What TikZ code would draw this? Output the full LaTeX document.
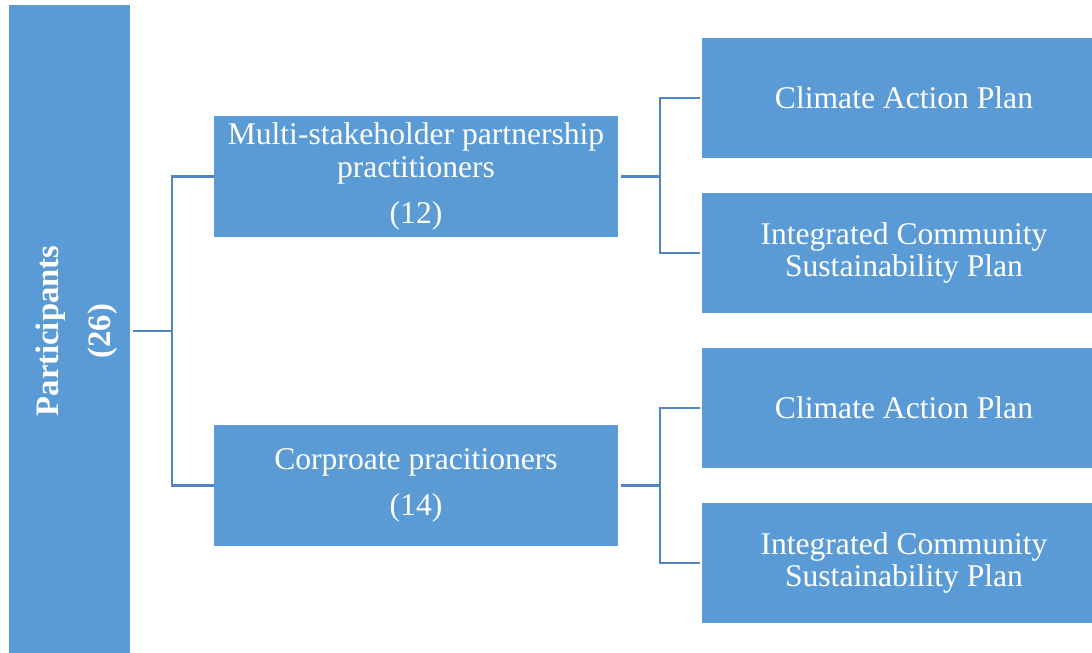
\documentclass[tikz,border=0pt]{standalone}
\usepackage{fontspec}
\setmainfont{Liberation Serif}
\definecolor{boxblue}{HTML}{5B9BD5}
\definecolor{linkblue}{HTML}{4F85C0}
\begin{document}
\begin{tikzpicture}[x=0.75pt,y=-0.75pt,
  blk/.style={fill=boxblue,draw=none,text=white,align=center,inner sep=0pt,
    font=\fontsize{23.7}{24.5}\selectfont},
  link/.style={draw=linkblue,line width=1.9pt}]
\useasboundingbox (0,0) rectangle (1092,653);
% root bar (rotated label)
\fill[boxblue] (9,5) rectangle (130,670);
\node[text=white,align=center,rotate=90,font=\bfseries\fontsize{24.5}{39}\selectfont]
  (root) at (77,331) {Participants\\(26)};
\coordinate (rootR) at (133,331);
% second level
\node[blk,minimum width=404*0.75pt,minimum height=121*0.75pt] (mid1) at (416,176.5)
  {Multi-stakeholder partnership\\practitioners\\[10pt](12)};
\node[blk,minimum width=404*0.75pt,minimum height=121*0.75pt] (mid2) at (416,485.5)
  {Corproate pracitioners\\[10pt](14)};
% third level
\foreach \n/\y/\t in {r1/98/{Climate Action Plan},
                      r2/253/{Integrated Community\\Sustainability Plan},
                      r3/408/{Climate Action Plan},
                      r4/563/{Integrated Community\\Sustainability Plan}}{
  \node[blk,minimum width=404*0.75pt,minimum height=120*0.75pt] (\n) at (904,\y) {\t};
}
% connectors
\draw[link] (rootR) -- (172,331);
\draw[link] (mid1.west) -| (172,331) |- (mid2.west);
\draw[link] ([xshift=2pt]mid1.east) -- (660,176.5);
\draw[link] ([xshift=-1.5pt]r1.west) -| (660,176.5) |- ([xshift=-1.5pt]r2.west);
\draw[link] ([xshift=2pt]mid2.east) -- (660,485.5);
\draw[link] ([xshift=-1.5pt]r3.west) -| (660,485.5) |- ([xshift=-1.5pt]r4.west);
\end{tikzpicture}
\end{document}
